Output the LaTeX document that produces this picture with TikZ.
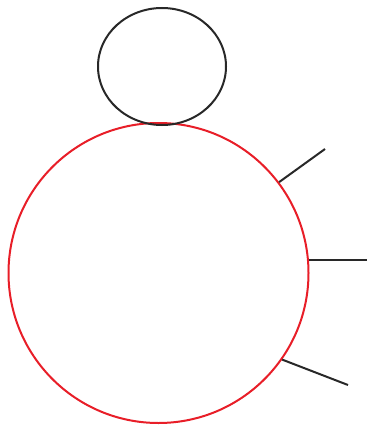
\documentclass[tikz,border=0pt]{standalone}
\usetikzlibrary{shapes.geometric}
\definecolor{ringred}{RGB}{232,30,40}
\definecolor{ink}{RGB}{40,40,40}
\tikzset{
  bigring/.style={circle, draw=ringred, line width=2pt, minimum size=300pt, inner sep=0pt},
  headring/.style={ellipse, draw=ink, line width=2pt, minimum width=128pt, minimum height=117pt, inner sep=0pt},
  spoke/.style={draw=ink, line width=2pt}
}
\begin{document}
\begin{tikzpicture}[x=1pt,y=-1pt]
\useasboundingbox (0,0) rectangle (367,425);
\node[bigring] (big) at (158.5,273) {};
\node[headring] (head) at (162,66.5) {};
\coordinate (e1) at (325,149);
\coordinate (e2) at (367,258);
\coordinate (e3) at (348,385);
\draw[spoke] (big.37) -- (e1);
\draw[spoke] (big.5.7) -- (big.5.7 -| e2);
\draw[spoke] (big.-35) -- (e3);
\end{tikzpicture}
\end{document}
